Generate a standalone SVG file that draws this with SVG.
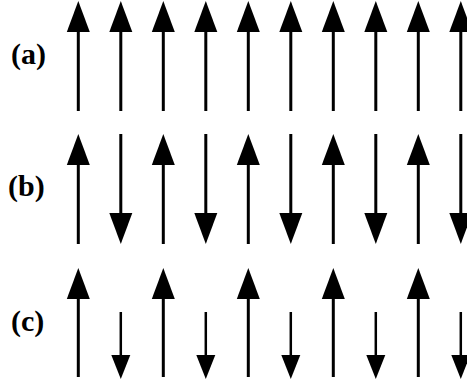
<svg xmlns="http://www.w3.org/2000/svg" width="467" height="385" viewBox="0 0 467 385">
<defs>
<marker id="big" markerUnits="userSpaceOnUse" viewBox="0 -11.5 31 23" refX="0" refY="0" markerWidth="31" markerHeight="23" orient="auto" overflow="visible"><path d="M0,-11.5 L31,0 L0,11.5 Z" fill="#000"/></marker>
<marker id="small" markerUnits="userSpaceOnUse" viewBox="0 -9.5 24 19" refX="0" refY="0" markerWidth="24" markerHeight="19" orient="auto" overflow="visible"><path d="M0,-9.5 L24,0 L0,9.5 Z" fill="#000"/></marker>
<style>
.a{stroke:#000;stroke-width:3;fill:none;marker-end:url(#big)}
.s{stroke:#000;stroke-width:2.5;fill:none;marker-end:url(#small)}
.lbl{font-family:"Liberation Serif","DejaVu Serif",serif;font-weight:bold;font-size:30px;fill:#000}
</style>
</defs>
<g id="labels">
<text class="lbl" x="11" y="64">(a)</text>
<text class="lbl" x="8" y="196">(b)</text>
<text class="lbl" x="11" y="331">(c)</text>
</g>
<g id="connectors">
<g id="row-a">
<line class="a" x1="78.3" y1="111" x2="78.3" y2="32"/>
<line class="a" x1="120.8" y1="111" x2="120.8" y2="32"/>
<line class="a" x1="163.3" y1="111" x2="163.3" y2="32"/>
<line class="a" x1="205.8" y1="111" x2="205.8" y2="32"/>
<line class="a" x1="248.3" y1="111" x2="248.3" y2="32"/>
<line class="a" x1="290.8" y1="111" x2="290.8" y2="32"/>
<line class="a" x1="333.3" y1="111" x2="333.3" y2="32"/>
<line class="a" x1="375.8" y1="111" x2="375.8" y2="32"/>
<line class="a" x1="418.3" y1="111" x2="418.3" y2="32"/>
<line class="a" x1="460.8" y1="111" x2="460.8" y2="32"/>
</g>
<g id="row-b">
<line class="a" x1="78.3" y1="244" x2="78.3" y2="165"/>
<line class="a" x1="120.8" y1="134" x2="120.8" y2="213"/>
<line class="a" x1="163.3" y1="244" x2="163.3" y2="165"/>
<line class="a" x1="205.8" y1="134" x2="205.8" y2="213"/>
<line class="a" x1="248.3" y1="244" x2="248.3" y2="165"/>
<line class="a" x1="290.8" y1="134" x2="290.8" y2="213"/>
<line class="a" x1="333.3" y1="244" x2="333.3" y2="165"/>
<line class="a" x1="375.8" y1="134" x2="375.8" y2="213"/>
<line class="a" x1="418.3" y1="244" x2="418.3" y2="165"/>
<line class="a" x1="460.8" y1="134" x2="460.8" y2="213"/>
</g>
<g id="row-c">
<line class="a" x1="78.3" y1="377" x2="78.3" y2="299"/>
<line class="s" x1="120.8" y1="312" x2="120.8" y2="355"/>
<line class="a" x1="163.3" y1="377" x2="163.3" y2="299"/>
<line class="s" x1="205.8" y1="312" x2="205.8" y2="355"/>
<line class="a" x1="248.3" y1="377" x2="248.3" y2="299"/>
<line class="s" x1="290.8" y1="312" x2="290.8" y2="355"/>
<line class="a" x1="333.3" y1="377" x2="333.3" y2="299"/>
<line class="s" x1="375.8" y1="312" x2="375.8" y2="355"/>
<line class="a" x1="418.3" y1="377" x2="418.3" y2="299"/>
<line class="s" x1="460.8" y1="312" x2="460.8" y2="355"/>
</g>
</g>
</svg>
